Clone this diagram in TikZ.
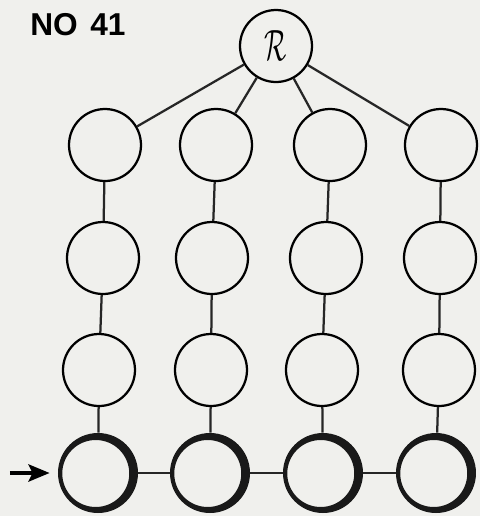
\documentclass[tikz,border=0pt]{standalone}
\usepackage{tikz}
\usepackage{fontspec}
\usepackage{amssymb,amsmath}
\usetikzlibrary{arrows.meta}
\setsansfont{Liberation Sans}
\definecolor{paper}{RGB}{240,240,237}

\begin{document}
\begin{tikzpicture}
\fill[paper] (0,0) rectangle (9.6,-10.32);
\useasboundingbox (0,0) rectangle (9.6,-10.32);

\node[anchor=base west,inner sep=0pt,font=\sffamily\bfseries\fontsize{18}{18}\selectfont] (title) at (0.60,-0.70) {NO\hspace{0.12em} 41};

\begin{scope}[every node/.style={circle,draw,line width=0.045cm,minimum size=1.44cm,inner sep=0pt}]
    \node (R) at (5.52,-0.92) {\scalebox{0.6}[1]{\fontsize{28}{28}\selectfont$\mathcal{R}$}};

    \node (A1) at (2.10,-2.90) {};
    \node (A2) at (4.32,-2.90) {};
    \node (A3) at (6.60,-2.90) {};
    \node (A4) at (8.82,-2.90) {};

    \node (B1) at (2.06,-5.16) {};
    \node (B2) at (4.24,-5.16) {};
    \node (B3) at (6.52,-5.16) {};
    \node (B4) at (8.80,-5.16) {};

    \node (C1) at (1.98,-7.40) {};
    \node (C2) at (4.22,-7.40) {};
    \node (C3) at (6.44,-7.40) {};
    \node (C4) at (8.78,-7.40) {};
\end{scope}

\begin{scope}[every node/.style={circle,minimum size=1.6cm,inner sep=0pt}]
    \node (D1) at (1.96,-9.46) {};
    \node (D2) at (4.20,-9.46) {};
    \node (D3) at (6.46,-9.46) {};
    \node (D4) at (8.72,-9.46) {};
\end{scope}

% heavy rings of the last row
\foreach \n in {D1,D2,D3,D4}
    \fill[black!90,even odd rule] (\n.center) circle (0.8) ([xshift=-0.045cm,yshift=-0.01cm]\n.center) circle (0.67);

\begin{scope}
     \draw [color=black!85,line width=0.045cm] (R) -- (A1);
     \draw [color=black!85,line width=0.045cm] (R) -- (A2);
     \draw [color=black!85,line width=0.045cm] (R) -- (A3);
     \draw [color=black!85,line width=0.045cm] (R) -- (A4);

     \draw [color=black!85,line width=0.045cm] (A1) -- (B1);
     \draw [color=black!85,line width=0.045cm] (B1) -- (C1);
     \draw [color=black!85,line width=0.045cm] (C1) -- (D1);

     \draw [color=black!85,line width=0.045cm] (A2) -- (B2);
     \draw [color=black!85,line width=0.045cm] (B2) -- (C2);
     \draw [color=black!85,line width=0.045cm] (C2) -- (D2);

     \draw [color=black!85,line width=0.045cm] (A3) -- (B3);
     \draw [color=black!85,line width=0.045cm] (B3) -- (C3);
     \draw [color=black!85,line width=0.045cm] (C3) -- (D3);

     \draw [color=black!85,line width=0.045cm] (A4) -- (B4);
     \draw [color=black!85,line width=0.045cm] (B4) -- (C4);
     \draw [color=black!85,line width=0.045cm] (C4) -- (D4);

     \draw [color=black!85,line width=0.045cm] (D1) -- (D2);
     \draw [color=black!85,line width=0.045cm] (D2) -- (D3);
     \draw [color=black!85,line width=0.045cm] (D3) -- (D4);

     \coordinate (start) at (0.2,-9.46);
     \draw [color=black,-{Stealth[length=0.42cm,width=0.34cm,inset=0.08cm]},line width=0.08cm,shorten >=0.16cm] (start) -- (D1);
\end{scope}
\end{tikzpicture}
\end{document}
